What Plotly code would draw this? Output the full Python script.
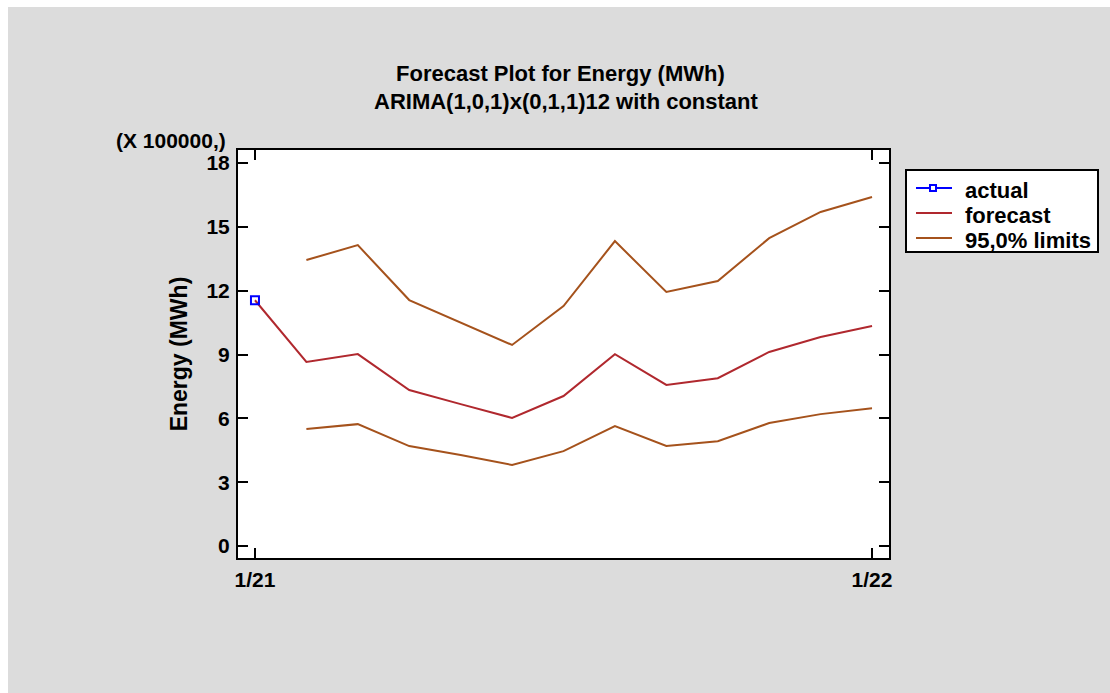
import plotly.graph_objects as go

# Monthly horizon: 0 = 1/21 ... 12 = 1/22
months = list(range(13))
tick_vals = [0, 12]
tick_text = ["1/21", "1/22"]
y_ticks = [0, 3, 6, 9, 12, 15, 18]

# Values in units of 100000 MWh
actual_month = [0]
actual = [11.55]
forecast = [11.55, 8.65, 9.02, 7.33, 6.67, 6.02, 7.05, 9.02, 7.57, 7.89, 9.12, 9.82, 10.34]
limit_months = list(range(1, 13))
upper = [13.44, 14.14, 11.56, 10.50, 9.45, 11.28, 14.33, 11.94, 12.45, 14.47, 15.70, 16.40]
lower = [5.50, 5.73, 4.70, 4.28, 3.81, 4.46, 5.64, 4.70, 4.93, 5.78, 6.20, 6.48]

legend_labels = ["actual", "forecast", "95,0% limits"]

FONT = "Arial, Liberation Sans, sans-serif"
RED = "#b0282e"
BROWN = "#a5521c"
BLUE = "#0000ff"

fig = go.Figure()
fig.add_trace(go.Scatter(
    x=months, y=forecast, mode="lines", name=legend_labels[1],
    line=dict(color=RED, width=2)))
fig.add_trace(go.Scatter(
    x=limit_months, y=upper, mode="lines", name=legend_labels[2],
    line=dict(color=BROWN, width=2)))
fig.add_trace(go.Scatter(
    x=limit_months, y=lower, mode="lines", name=legend_labels[2],
    line=dict(color=BROWN, width=2)))
fig.add_trace(go.Scatter(
    x=actual_month, y=actual, mode="markers", name=legend_labels[0],
    marker=dict(symbol="square-open", size=8, color=BLUE, line=dict(width=2))))

L, R, T, B = 238, 221, 150, 135
W, H = 1110, 693
pw, ph = W - L - R, H - T - B


def px_x(p):
    return (p - L) / pw


def px_y(p):
    return (H - B - p) / ph


axis_common = dict(
    showline=True, linecolor="black", linewidth=2, mirror="ticks",
    ticks="inside", ticklen=10, tickwidth=2, tickcolor="black",
    showgrid=False, zeroline=False,
    tickfont=dict(family=FONT, size=21, color="black", weight="bold"),
)

shapes = [
    # white frame strips on top and left edges
    dict(type="rect", xref="paper", yref="paper",
         x0=px_x(0), x1=px_x(W), y0=px_y(7), y1=px_y(0),
         fillcolor="white", line=dict(width=0), layer="above"),
    dict(type="rect", xref="paper", yref="paper",
         x0=px_x(0), x1=px_x(8), y0=px_y(H), y1=px_y(0),
         fillcolor="white", line=dict(width=0), layer="above"),
    # legend box
    dict(type="rect", xref="paper", yref="paper",
         x0=px_x(906), x1=px_x(1098), y0=px_y(252), y1=px_y(170),
         fillcolor="white", line=dict(color="black", width=2), layer="above"),
]
annotations = [
    dict(text="Forecast Plot for Energy (MWh)", xref="paper", yref="paper",
         x=px_x(560), y=px_y(73), xanchor="center", yanchor="middle",
         showarrow=False,
         font=dict(family=FONT, size=22, color="black", weight="bold")),
    dict(text="ARIMA(1,0,1)x(0,1,1)12 with constant", xref="paper", yref="paper",
         x=px_x(566), y=px_y(101), xanchor="center", yanchor="middle",
         showarrow=False,
         font=dict(family=FONT, size=22, color="black", weight="bold")),
    dict(text="(X 100000,)", xref="paper", yref="paper",
         x=px_x(228), y=px_y(140), xanchor="right", yanchor="middle",
         showarrow=False,
         font=dict(family=FONT, size=21, color="black", weight="bold")),
]

# legend rows: sample line, then label
legend_colors = [BLUE, RED, BROWN]
row_y = [188, 213, 238]
for label, color, ry in zip(legend_labels, legend_colors, row_y):
    shapes.append(dict(type="line", xref="paper", yref="paper",
                       x0=px_x(916), x1=px_x(952), y0=px_y(ry), y1=px_y(ry),
                       line=dict(color=color, width=2), layer="above"))
    annotations.append(dict(text=label, xref="paper", yref="paper",
                            x=px_x(963), y=px_y(ry + 2), xanchor="left",
                            yanchor="middle", showarrow=False,
                            font=dict(family=FONT, size=22, color="black",
                                      weight="bold")))
# square marker on the "actual" sample
shapes.append(dict(type="rect", xref="paper", yref="paper",
                   x0=px_x(930), x1=px_x(936), y0=px_y(191), y1=px_y(185),
                   fillcolor="white", line=dict(color=BLUE, width=2), layer="above"))

fig.update_layout(
    width=W, height=H,
    margin=dict(l=L, r=R, t=T, b=B),
    paper_bgcolor="#dcdcdc",
    plot_bgcolor="white",
    showlegend=False,
    xaxis=dict(range=[-0.33, 12.33], tickvals=tick_vals, ticktext=tick_text,
               ticklabelstandoff=2, **axis_common),
    yaxis=dict(range=[-0.56, 18.61], tickvals=y_ticks,
               ticklabelstandoff=2,
               title=dict(text="Energy (MWh)", standoff=12,
                          font=dict(family=FONT, size=23, color="black", weight="bold")),
               **axis_common),
    shapes=shapes,
    annotations=annotations,
)

fig.write_html("out.html")
